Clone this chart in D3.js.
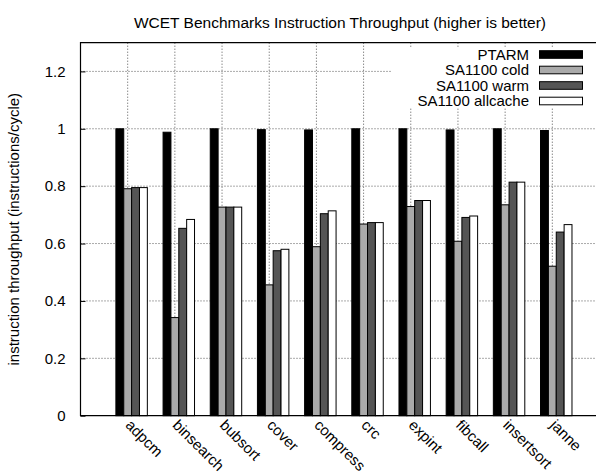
<!DOCTYPE html>
<html><head><meta charset="utf-8">
<script src="https://cdn.jsdelivr.net/npm/d3@7"></script>
<style>
html,body{margin:0;padding:0;background:#fff;}
svg{display:block;font-family:"Liberation Sans",Arial,Helvetica,sans-serif;}
</style></head>
<body>
<svg id="chart" width="596" height="475"></svg>
<script>
const categories = ["adpcm","binsearch","bubsort","cover","compress","crc","expint","fibcall","insertsort","janne"];
const seriesNames = ["PTARM","SA1100 cold","SA1100 warm","SA1100 allcache"];
const ptarm    = [1.000, 0.988, 1.000, 0.997, 0.996, 1.000, 1.000, 0.996, 1.000, 0.994];
const cold     = [0.791, 0.342, 0.727, 0.456, 0.589, 0.668, 0.729, 0.608, 0.735, 0.521];
const warm     = [0.795, 0.653, 0.727, 0.575, 0.704, 0.673, 0.750, 0.691, 0.814, 0.640];
const allcache = [0.795, 0.684, 0.727, 0.580, 0.714, 0.673, 0.750, 0.696, 0.814, 0.666];
const yTicks = [0, 0.2, 0.4, 0.6, 0.8, 1, 1.2];
const yTickLabels = ["0","0.2","0.4","0.6","0.8","1","1.2"];

(function () {
const colors = ["#000000","#aaaaaa","#555555","#ffffff"];
const series = [ptarm, cold, warm, allcache];

const svg = d3.select("#chart");
const pl = 80.5, pr = 599.5, pt = 42.7, pb = 415.7;
const x = d3.scaleLinear().domain([-1, 10]).range([pl, pr]);
const y = d3.scaleLinear().domain([0, 1.3]).range([pb, pt]);
const slot = 1/6;

// grid
const grid = svg.append("g");
yTicks.filter(v => v > 0).forEach(v => {
  grid.append("line").attr("x1", pl).attr("x2", pr).attr("y1", y(v)).attr("y2", y(v))
    .attr("stroke", "#555").attr("stroke-width", 1).attr("stroke-dasharray", "1,2");
});
categories.forEach((c, i) => {
  grid.append("line").attr("x1", x(i)).attr("x2", x(i)).attr("y1", pt).attr("y2", pb)
    .attr("stroke", "#555").attr("stroke-width", 1).attr("stroke-dasharray", "1,2");
});

// bars
series.forEach((vals, j) => {
  svg.append("g").selectAll("rect").data(vals).join("rect")
    .attr("x", (d, i) => x(i + (j - 1.5) * slot))
    .attr("width", x(slot) - x(0))
    .attr("y", d => y(d))
    .attr("height", d => y(0) - y(d))
    .attr("fill", colors[j])
    .attr("stroke", "#000").attr("stroke-width", 1);
});

// legend background (opaque)
const legX = 392, legY = 47;
svg.append("rect").attr("x", legX).attr("y", legY).attr("width", 596 - legX).attr("height", 61).attr("fill", "#fff");
seriesNames.forEach((name, j) => {
  const cy = 54.5 + 15.5 * j;
  svg.append("text").attr("x", 529).attr("y", cy + 5.3).attr("text-anchor", "end")
    .attr("font-size", 15).attr("fill", "#000").text(name);
  svg.append("rect").attr("x", 539.5).attr("y", cy - 3.8).attr("width", 43).attr("height", 7.6)
    .attr("fill", colors[j]).attr("stroke", "#000").attr("stroke-width", 1);
});

// border
svg.append("path").attr("d", `M${pr},${pt}H${pl}V${pb}H${pr}`)
  .attr("fill", "none").attr("stroke", "#000").attr("stroke-width", 1.2);

// y axis
const yAxis = d3.axisLeft(y).tickValues(yTicks).tickFormat((d, i) => yTickLabels[i]).tickSize(-5).tickPadding(15);
const ga = svg.append("g").attr("transform", `translate(${pl},0)`).call(yAxis);
ga.select(".domain").remove();
ga.selectAll(".tick line").attr("stroke", "#000");
ga.selectAll("text").attr("font-size", 15).attr("font-family", "Liberation Sans, Arial, sans-serif").attr("fill", "#000");

// x labels
svg.append("g").selectAll("text").data(categories).join("text")
  .attr("transform", (d, i) => `translate(${x(i) - 3},${426}) rotate(45)`)
  .attr("font-size", 15).attr("fill", "#000").text(d => d);

// title
svg.append("text").attr("x", 340).attr("y", 28).attr("text-anchor", "middle")
  .attr("font-size", 15.5).attr("fill", "#000").text("WCET Benchmarks Instruction Throughput (higher is better)");

// y label
svg.append("text").attr("transform", `translate(19,${(pt + pb) / 2}) rotate(-90)`)
  .attr("text-anchor", "middle").attr("font-size", 15).attr("fill", "#000")
  .text("instruction throughput (instructions/cycle)");
})();
</script>
</body></html>
